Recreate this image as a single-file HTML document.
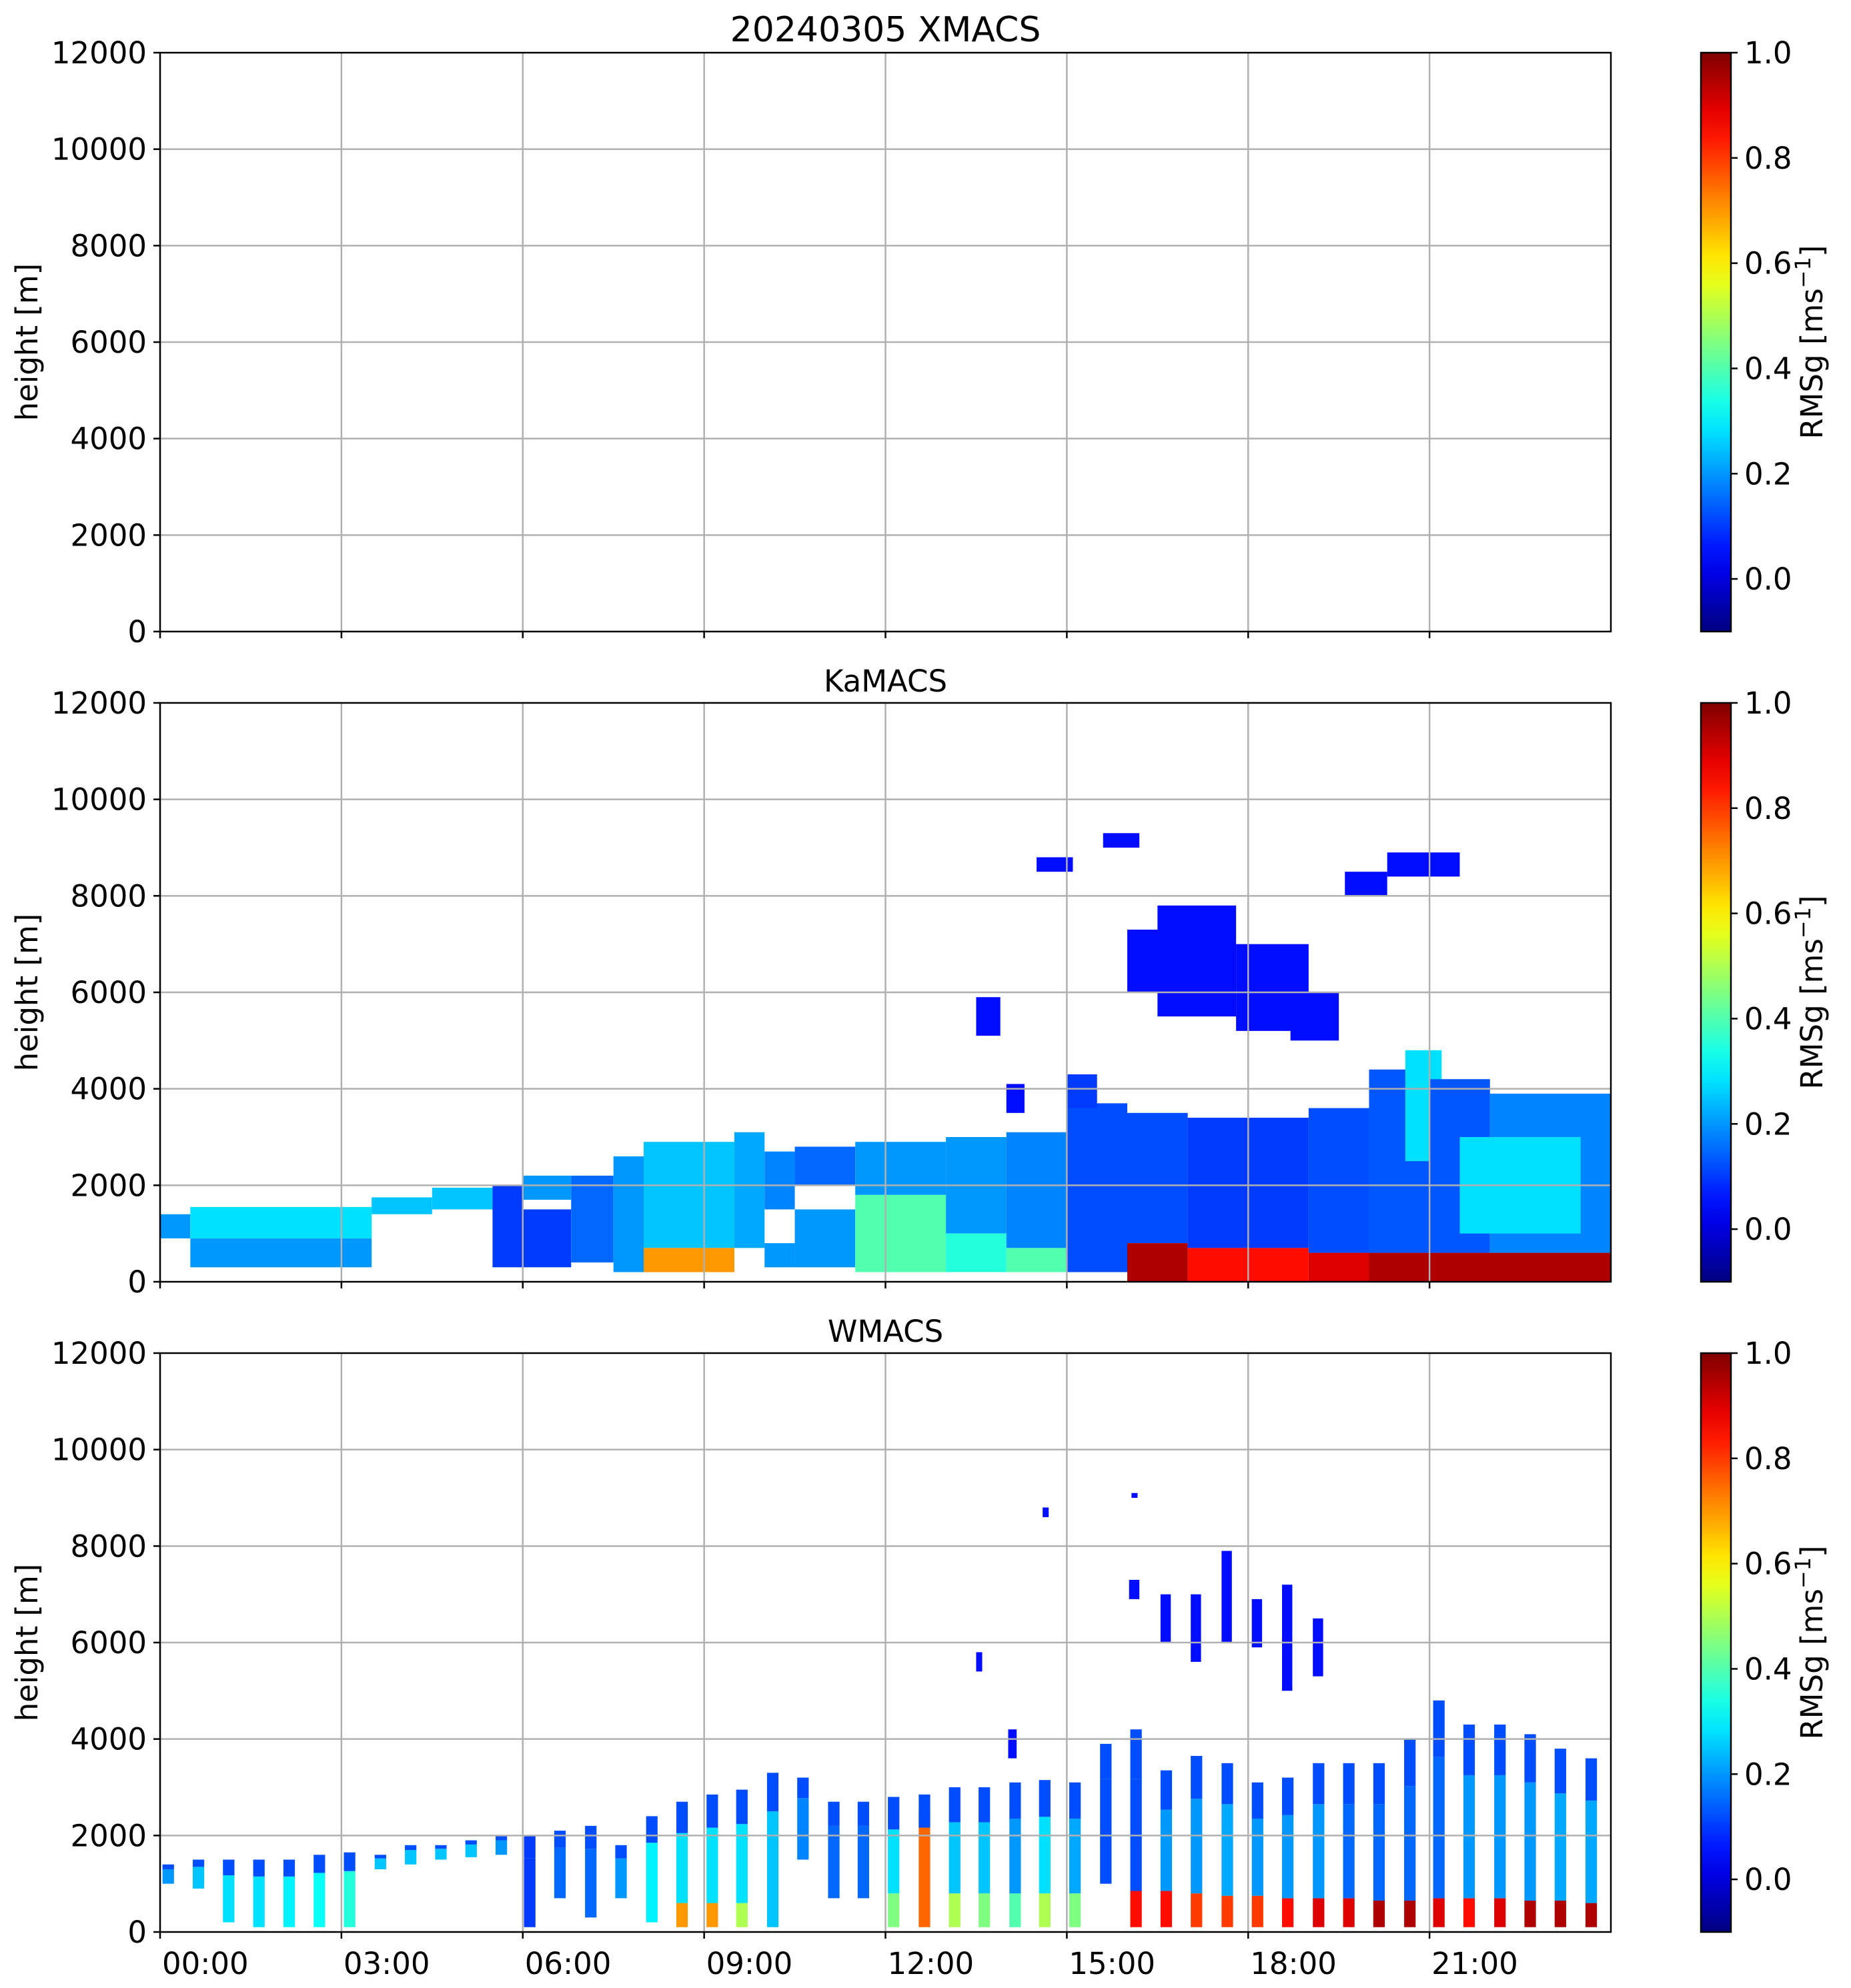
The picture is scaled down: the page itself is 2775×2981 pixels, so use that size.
<!DOCTYPE html>
<html><head><meta charset="utf-8"><style>
body{margin:0;background:#fff}
svg{display:block;font-family:"DejaVu Sans","Liberation Sans",sans-serif}
</style></head><body>
<svg id="fig" width="2775" height="2981" viewBox="0 0 2775 2981" xmlns="http://www.w3.org/2000/svg"></svg>
<script>
const yTicks=[0,2000,4000,6000,8000,10000,12000];
const xTicks=[0,3,6,9,12,15,18,21];
const xTickLabels=["00:00","03:00","06:00","09:00","12:00","15:00","18:00","21:00"];
const cbTicks=[0.0,0.2,0.4,0.6,0.8,1.0];
const panelTitles=["20240305 XMACS","KaMACS","WMACS"];
// segments: [tStart(h), tEnd(h), baseHeight(m), topHeight(m), RMSg value]
const xSegs=[];
const kaSegs=[
[0,0.5,900,1400,0.2],
[0.5,3.5,300,900,0.2],[0.5,3.5,900,1550,0.28],
[3.5,4.5,1400,1750,0.25],[4.5,5.5,1500,1950,0.25],
[5.5,6.0,300,2000,0.1],[6,6.8,300,1500,0.1],[6,6.8,1700,2200,0.2],[6.8,7.5,400,2200,0.15],
[7.5,8,200,2600,0.2],
[8,9.5,700,2900,0.25],[8,9.5,200,700,0.7],
[9.5,10,700,3100,0.22],
[10,10.5,1500,2700,0.18],[10,10.5,300,800,0.2],
[10.5,11.5,2000,2800,0.15],[10.5,11.5,300,1500,0.2],
[11.5,13,1800,2900,0.2],[11.5,13,200,1800,0.4],
[13,14,1000,3000,0.2],[13,14,200,1000,0.35],
[14,15,700,3100,0.18],[14,15,200,700,0.4],
[15,16,200,3700,0.12],
[16,17,800,3500,0.12],[16,17,0,800,0.95],
[17,19,700,3400,0.1],[17,19,0,700,0.85],
[19,20,600,3600,0.12],[19,20,0,600,0.9],
[20,21,600,4400,0.13],[20.6,21.2,2500,4800,0.28],
[21,22,600,4200,0.13],[22,24,600,3900,0.18],[21.5,23.5,1000,3000,0.28],[20,24,0,600,0.95],
[16.0,17.3,6000,7300,0.05],[16.5,17.8,5500,7800,0.05],[17.8,19.0,5200,7000,0.05],[18.7,19.5,5000,6000,0.05],
[13.5,13.9,5100,5900,0.05],[14,14.3,3500,4100,0.05],[14.5,15.1,8500,8800,0.05],[15.6,16.2,9000,9300,0.05],
[19.6,20.3,8000,8500,0.05],[20.3,21.5,8400,8900,0.05],[15,15.5,3600,4300,0.1]
];
// WMACS vertical-scan bars
const wTimes=[0.04,0.54,1.04,1.54,2.04,2.54,3.04,3.55,4.05,4.55,5.05,5.55,6.02,6.52,7.03,7.53,8.04,8.54,9.04,9.53,10.04,10.54,11.05,11.54,12.04,12.55,13.05,13.54,14.05,14.54,15.04,15.55,16.05,16.55,17.05,17.56,18.06,18.56,19.07,19.57,20.07,20.58,21.06,21.56,22.07,22.57,23.07,23.58];
const wBase=[1000,900,200,100,100,100,100,1300,1400,1500,1550,1600,100,700,300,700,200,100,100,100,100,1500,700,700,100,100,100,100,100,100,100,1000,100,100,100,100,100,100,100,100,100,100,100,100,100,100,100,100];
const wTop=[1400,1500,1500,1500,1500,1600,1650,1600,1800,1800,1900,2000,2000,2100,2200,1800,2400,2700,2850,2950,3300,3200,2700,2700,2800,2850,3000,3000,3100,3150,3100,3900,4200,3350,3650,3500,3100,3200,3500,3500,3500,4000,4800,4300,4300,4100,3800,3600];
const wLowTop=[0,0,0,0,0,0,0,0,0,0,0,0,0,0,0,0,0,600,600,600,0,0,0,0,800,2500,800,800,800,800,800,0,850,850,800,750,750,700,700,700,650,650,700,700,700,650,650,600];
const wLowVal=[0,0,0,0,0,0,0,0,0,0,0,0,0,0,0,0,0,0.7,0.7,0.5,0,0,0,0,0.45,0.75,0.5,0.45,0.4,0.5,0.45,0,0.85,0.85,0.8,0.8,0.8,0.85,0.9,0.9,0.95,0.95,0.9,0.85,0.9,0.95,0.95,0.95];
const wMidVal=[0.2,0.25,0.28,0.28,0.3,0.32,0.35,0.25,0.25,0.25,0.25,0.2,0.1,0.15,0.15,0.2,0.3,0.28,0.28,0.28,0.25,0.18,0.15,0.15,0.28,0.3,0.25,0.25,0.2,0.28,0.22,0.12,0.12,0.2,0.2,0.22,0.2,0.2,0.2,0.15,0.15,0.15,0.15,0.2,0.2,0.2,0.22,0.22];
const wBlobs=[
[16.03,16.2,6900,7300,0.05],[16.55,16.72,6000,7000,0.05],[17.05,17.22,5600,7000,0.05],[17.56,17.73,6000,7900,0.05],
[18.06,18.23,5900,6900,0.05],[18.56,18.73,5000,7200,0.05],[19.07,19.24,5300,6500,0.05],[13.5,13.6,5400,5800,0.05],
[14.03,14.17,3600,4200,0.05],[14.6,14.7,8600,8800,0.05],[16.07,16.17,9000,9100,0.05]
];
const NS="http://www.w3.org/2000/svg";
const svg=document.getElementById('fig');
const L=240,R=2415,H=868,tops=[79,1054,2029],CBX=2550,CBW=45,VMIN=-0.1,VMAX=1.0,BARW=0.19;
function X(t){return L+(R-L)*t/24;}
function Y(p,h){return tops[p]+H*(1-h/12000);}
function jet(v){let x=(v-VMIN)/(VMAX-VMIN);x=Math.max(0,Math.min(1,x));
 const f=(a)=>Math.max(0,Math.min(1,a));
 const r=f(Math.min(4*x-1.5,-4*x+4.5)),g=f(Math.min(4*x-0.5,-4*x+3.5)),b=f(Math.min(4*x+0.5,-4*x+2.5));
 return `rgb(${Math.round(r*255)},${Math.round(g*255)},${Math.round(b*255)})`;}
function el(tag,attrs,parent){const e=document.createElementNS(NS,tag);for(const k in attrs)e.setAttribute(k,attrs[k]);(parent||svg).appendChild(e);return e;}
function txt(s,attrs,parent){const e=el('text',attrs,parent);e.textContent=s;return e;}
// build WMACS segments from bar arrays
const wSegs=[];
wTimes.forEach((t,i)=>{
 const base=wBase[i],top=wTop[i],low=Math.max(base,wLowTop[i]);
 const upper=top-(top-base)*0.25;
 if(wLowTop[i]>base) wSegs.push([t,t+BARW,base,low,wLowVal[i]]);
 wSegs.push([t,t+BARW,low,upper,wMidVal[i]]);
 wSegs.push([t,t+BARW,upper,top,Math.min(wMidVal[i],0.12)]);
});
wBlobs.forEach(b=>wSegs.push(b));
const panelSegs=[xSegs,kaSegs,wSegs];
const defs=el('defs',{});
const grad=el('linearGradient',{id:'jetg',x1:0,y1:1,x2:0,y2:0},defs);
for(let i=0;i<=20;i++){const v=VMIN+(VMAX-VMIN)*i/20;el('stop',{offset:(i/20),'stop-color':jet(v)},grad);}
for(let p=0;p<3;p++){
 const g=el('g',{});
 
 
 const top=tops[p];
 for(const s of panelSegs[p]){
  const r=el('rect',{x:X(s[0]),y:Y(p,s[3]),width:X(s[1])-X(s[0]),height:Y(p,s[2])-Y(p,s[3]),fill:jet(s[4])},g);
  
  
 }
 for(const t of xTicks){if(t>0){const l=el('line',{x1:X(t),x2:X(t),y1:top,y2:top+H,stroke:'#b0b0b0','stroke-width':2.5},g);}}
 for(const h of yTicks){if(h>0&&h<12000){const l=el('line',{x1:L,x2:R,y1:Y(p,h),y2:Y(p,h),stroke:'#b0b0b0','stroke-width':2.5},g);}}
 const fr=el('rect',{x:L,y:top,width:R-L,height:H,fill:'none',stroke:'#000','stroke-width':2.5},g);
 
 for(const h of yTicks){el('line',{x1:L-10,x2:L,y1:Y(p,h),y2:Y(p,h),stroke:'#000','stroke-width':2.5},g);
  const t=txt(String(h),{x:L-20,y:Y(p,h)+16,'font-size':45,'text-anchor':'end'},g);}
 xTicks.forEach((t,i)=>{el('line',{x1:X(t),x2:X(t),y1:top+H,y2:top+H+10,stroke:'#000','stroke-width':2.5},g);
  if(p===2){const tl=txt(xTickLabels[i],{x:X(t)+3,y:top+H+63,'font-size':45},g);}});
 const ti=txt(panelTitles[p],{x:(L+R)/2,y:top-17,'font-size':p===0?52:45,'text-anchor':'middle'},g);
 
 const yl=txt('height [m]',{x:0,y:0,'font-size':45,'text-anchor':'middle',transform:`translate(56,${top+H/2}) rotate(-90)`},g);
 
 const cb=el('rect',{x:CBX,y:top,width:CBW,height:H,fill:'url(#jetg)',stroke:'#000','stroke-width':2.5},g);
 
 for(const v of cbTicks){const yy=top+H*(1-(v-VMIN)/(VMAX-VMIN));
  el('line',{x1:CBX+CBW,x2:CBX+CBW+10,y1:yy,y2:yy,stroke:'#000','stroke-width':2.5},g);
  const ct=txt(v.toFixed(1),{x:CBX+CBW+20,y:yy+16,'font-size':45},g);}
 const cl=el('text',{x:0,y:0,'font-size':45,'text-anchor':'middle',transform:`translate(2732,${top+H/2}) rotate(-90)`},g);
 
 cl.textContent='RMSg [ms';
 const sup=el('tspan',{dy:-18,'font-size':32},cl);sup.textContent='−1';
 const cl2=el('tspan',{dy:18},cl);cl2.textContent=']';
}
</script>
</body></html>
